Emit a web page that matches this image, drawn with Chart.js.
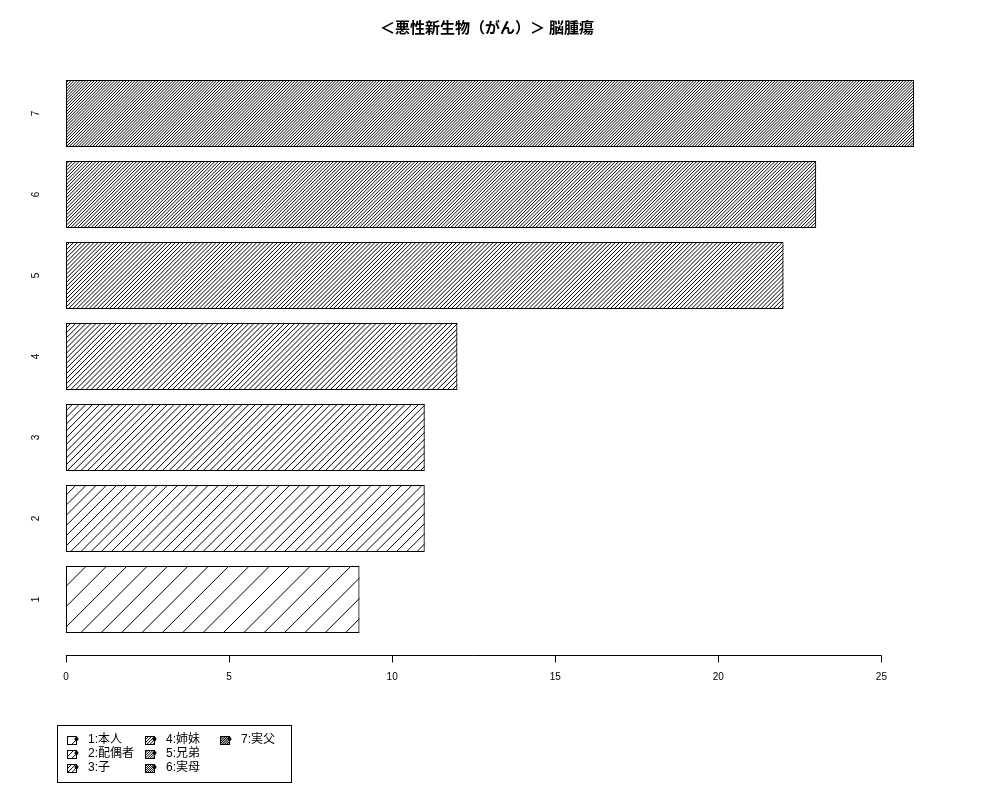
<!DOCTYPE html>
<html>
<head>
<meta charset="utf-8">
<script src="https://cdn.jsdelivr.net/npm/chart.js@4/dist/chart.umd.min.js"></script>
<style>
  body { margin: 0; background: #fff; }
  #wrap { width: 1000px; height: 800px; }
</style>
</head>
<body>
<div id="wrap"><canvas id="barChart" width="1000" height="800"></canvas></div>
<script>
// データ
const categories = ['1', '2', '3', '4', '5', '6', '7'];
const values = [9, 11, 11, 12, 22, 23, 26];
const legendLabels = ['1:本人', '2:配偶者', '3:子', '4:姉妹', '5:兄弟', '6:実母', '7:実父'];
const xTicks = [0, 5, 10, 15, 20, 25];
const titleText = '＜悪性新生物（がん）＞ 脳腫瘍';

// 斜線の密度 (R の density 相当)
const densities = [5, 10, 15, 20, 25, 30, 35];
const FONT = '"Liberation Sans", "Noto Sans CJK JP", sans-serif';

function hatchSpacing(d) {
    return 72 * Math.SQRT2 / d;
}

// 矩形の中に 45 度の斜線を引く
function hatchRect(ctx, left, top, right, bottom, spacing) {
    ctx.save();
    ctx.beginPath();
    ctx.rect(left, top, right - left, bottom - top);
    ctx.clip();
    const h = bottom - top;
    ctx.beginPath();
    for (let x = left - h; x < right + spacing; x += spacing) {
        ctx.moveTo(x, bottom);
        ctx.lineTo(x + h, top);
    }
    ctx.lineWidth = 1;
    ctx.strokeStyle = '#000';
    ctx.stroke();
    ctx.restore();
}

const rStylePlugin = {
    id: 'rStyle',
    afterDatasetsDraw(chart) {
        const ctx = chart.ctx;
        const meta = chart.getDatasetMeta(0);
        meta.data.forEach((bar, i) => {
            const p = bar.getProps(['x', 'y', 'base', 'height'], true);
            const left = Math.min(p.x, p.base);
            const right = Math.max(p.x, p.base);
            hatchRect(ctx, left, p.y - p.height / 2, right, p.y + p.height / 2, hatchSpacing(densities[i]));
        });
    },
    afterDraw(chart) {
        const ctx = chart.ctx;
        const area = chart.chartArea;
        const xs = chart.scales.x;
        const ys = chart.scales.y;

        // タイトル
        ctx.save();
        ctx.fillStyle = '#000';
        ctx.font = 'bold 15px ' + FONT;
        ctx.textAlign = 'center';
        ctx.textBaseline = 'middle';
        ctx.fillText(titleText, (area.left + area.right) / 2 - 3, 29);

        // x 軸 (0〜25 のみ)
        const axisY = Math.round(area.bottom + 15) + 0.5;
        ctx.strokeStyle = '#000';
        ctx.lineWidth = 1;
        ctx.beginPath();
        ctx.moveTo(xs.getPixelForValue(xTicks[0]), axisY);
        ctx.lineTo(xs.getPixelForValue(xTicks[xTicks.length - 1]), axisY);
        xTicks.forEach(v => {
            const px = Math.round(xs.getPixelForValue(v)) + 0.5;
            ctx.moveTo(px, axisY);
            ctx.lineTo(px, axisY + 7);
        });
        ctx.stroke();
        ctx.font = '10px ' + FONT;
        ctx.textBaseline = 'middle';
        xTicks.forEach(v => {
            ctx.fillText(String(v), xs.getPixelForValue(v), axisY + 22);
        });

        // y 軸ラベル (90 度回転)
        categories.forEach((c, i) => {
            const py = ys.getPixelForValue(i);
            ctx.save();
            ctx.translate(36, py);
            ctx.rotate(-Math.PI / 2);
            ctx.fillText(c, 0, 0);
            ctx.restore();
        });

        // 凡例
        ctx.strokeStyle = '#000';
        ctx.strokeRect(57.5, 725.5, 234, 57);
        const colX = [67, 145, 220];
        const rowY = [740, 754, 768];
        ctx.font = '12px ' + FONT;
        ctx.textAlign = 'left';
        legendLabels.forEach((lab, i) => {
            const cx = colX[Math.floor(i / 3)];
            const cy = rowY[i % 3];
            const bx = cx + 0.5, by = cy - 4 + 0.5;
            hatchRect(ctx, bx, by, bx + 9, by + 8, hatchSpacing(densities[i]) * 0.6);
            ctx.strokeRect(bx, by, 9, 8);
            ctx.beginPath();
            ctx.fillStyle = '#000';
            ctx.arc(bx + 9, cy - 1, 2, 0, Math.PI * 2);
            ctx.fill();
            ctx.fillText(lab, cx + 21, cy);
        });
        ctx.restore();
    }
};

const ctxBar = document.getElementById('barChart').getContext('2d');

const barChart = new Chart(ctxBar, {
    type: 'bar',
    data: {
        labels: categories,
        datasets: [{
            data: values,
            backgroundColor: 'rgba(255,255,255,0)',
            borderColor: '#000',
            borderWidth: 1,
            borderSkipped: false,
            barPercentage: 0.827,
            categoryPercentage: 1.0
        }]
    },
    options: {
        indexAxis: 'y',
        responsive: false,
        animation: false,
        devicePixelRatio: 1,
        layout: {
            padding: { left: 66, right: 86, top: 73, bottom: 160 }
        },
        scales: {
            x: { display: false, min: 0, max: 26 },
            y: { display: false, reverse: true, offset: true }
        },
        plugins: {
            legend: { display: false },
            tooltip: { enabled: false },
            title: { display: false }
        }
    },
    plugins: [rStylePlugin]
});
</script>
</body>
</html>
